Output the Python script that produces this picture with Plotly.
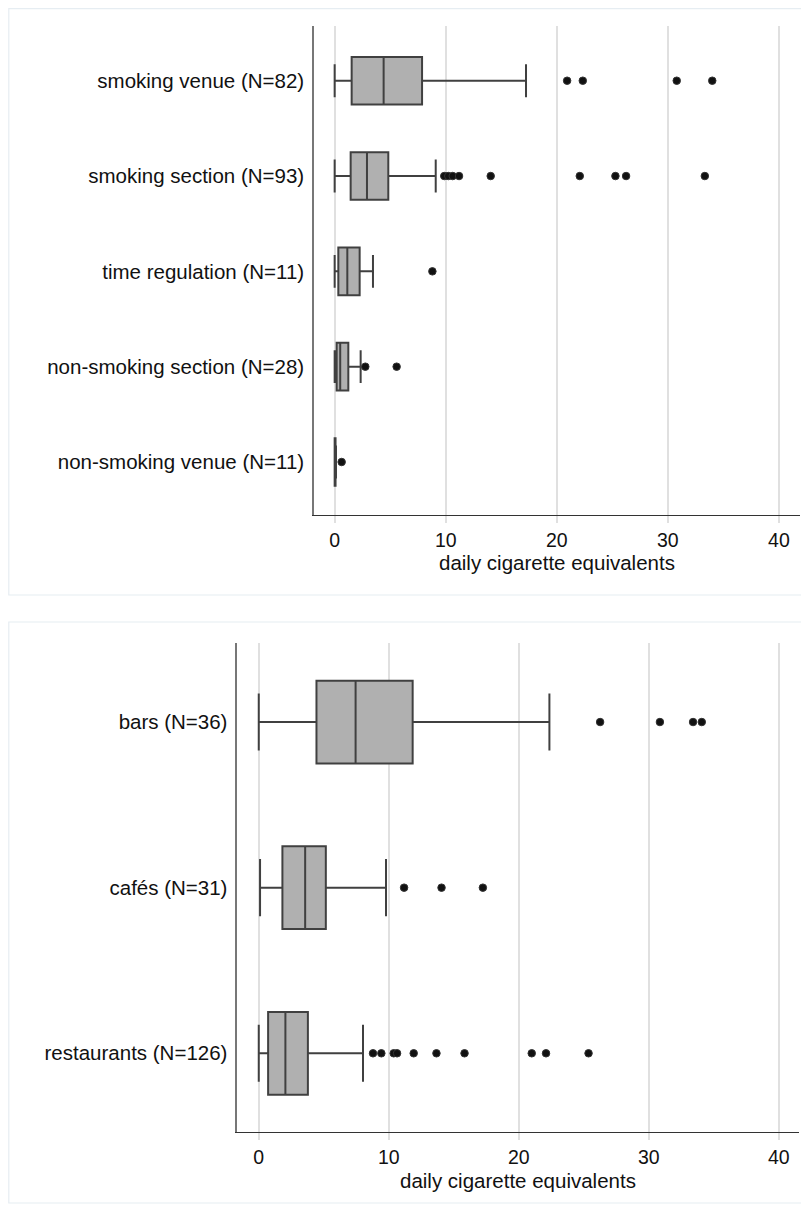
import plotly.graph_objects as go

# page has an 8px body margin; figure is sized so it ends at the window edge
OFF = 8
W, H = 809 - OFF, 1206 - OFF

# ---- Data ----
top_cats = ["smoking venue (N=82)", "smoking section (N=93)", "time regulation (N=11)",
            "non-smoking section (N=28)", "non-smoking venue (N=11)"]
top_low = [0.0, 0.0, 0.0, 0.0, 0.0]
top_q1 = [1.53, 1.44, 0.33, 0.18, 0.0]
top_med = [4.41, 2.91, 1.14, 0.5, 0.02]
top_q3 = [7.87, 4.83, 2.25, 1.23, 0.08]
top_high = [17.23, 9.1, 3.45, 2.34, 0.12]
top_out = [
    [20.93, 22.34, 30.8, 34.0],
    [9.87, 10.23, 10.63, 11.2, 14.05, 22.07, 25.28, 26.24, 33.33],
    [8.8],
    [2.76, 5.58],
    [0.63],
]

bot_cats = ["bars (N=36)", "cafés (N=31)", "restaurants (N=126)"]
bot_low = [0.0, 0.1, 0.0]
bot_q1 = [4.44, 1.82, 0.72]
bot_med = [7.45, 3.57, 2.05]
bot_q3 = [11.84, 5.16, 3.78]
bot_high = [22.36, 9.79, 8.02]
bot_out = [
    [26.26, 30.86, 33.41, 34.08],
    [11.18, 14.06, 17.24],
    [8.79, 9.43, 10.38, 10.64, 11.92, 13.67, 15.83, 21.0, 22.1, 25.37],
]

x_ticks = [0, 10, 20, 30, 40]
x_title = "daily cigarette equivalents"

FONT = "Arial, 'Liberation Sans', sans-serif"
FS = 20.5
FS_TICK = 19.5
BOX_FILL = "#b0b0b0"
BOX_LINE = "#404040"
GRID = "#e0e0e0"

fig = go.Figure()

def add_panel(cats, low, q1, med, q3, high, outs, xa, ya):
    for i, c in enumerate(cats):
        fig.add_trace(go.Box(
            y=[c], q1=[q1[i]], median=[med[i]], q3=[q3[i]],
            lowerfence=[low[i]], upperfence=[high[i]],
            orientation="h", fillcolor=BOX_FILL,
            line=dict(color=BOX_LINE, width=2),
            boxpoints=False, whiskerwidth=0.69, width=0.5,
            xaxis=xa, yaxis=ya, showlegend=False, hoverinfo="skip"))
        fig.add_trace(go.Scatter(
            x=outs[i], y=[c] * len(outs[i]), mode="markers",
            marker=dict(color="#111111", size=7.5, line=dict(color="#333333", width=1)),
            xaxis=xa, yaxis=ya, showlegend=False, hoverinfo="skip"))

add_panel(top_cats, top_low, top_q1, top_med, top_q3, top_high, top_out, "x", "y")
add_panel(bot_cats, bot_low, bot_q1, bot_med, bot_q3, bot_high, bot_out, "x2", "y2")

def px_x(v):
    return min(1.0, max(0.0, (v - OFF) / W))

def px_y(v):
    return min(1.0, max(0.0, 1 - (v - OFF) / H))

xcommon = dict(
    tickvals=x_ticks, ticktext=[str(t) for t in x_ticks],
    showgrid=True, gridcolor=GRID, gridwidth=1.5,
    ticks="outside", ticklen=7, tickcolor=GRID, tickwidth=1.5,
    showline=True, linecolor="#333333", linewidth=1.2,
    zeroline=False,
    tickfont=dict(family=FONT, size=FS_TICK, color="#111111"),
)
ycommon = dict(
    type="category", showgrid=False, zeroline=False,
    showline=True, linecolor="#777777", linewidth=1.5,
    ticks="", ticklabelstandoff=4,
    tickfont=dict(family=FONT, size=FS, color="#111111"),
)

top_x_dom = [px_x(314), px_x(800)]
bot_x_dom = [px_x(237.3), px_x(799)]

fig.update_layout(
    width=W, height=H,
    margin=dict(l=0, r=0, t=0, b=0),
    paper_bgcolor="white", plot_bgcolor="white",
    xaxis=dict(domain=top_x_dom, range=[-1.86, 41.9], anchor="y", **xcommon),
    yaxis=dict(domain=[px_y(515), px_y(26)], range=[4.556, -0.574], anchor="x",
               categoryorder="array", categoryarray=top_cats, **ycommon),
    xaxis2=dict(domain=bot_x_dom, range=[-1.65, 41.56], anchor="y2", **xcommon),
    yaxis2=dict(domain=[px_y(1132.3), px_y(642.7)], range=[2.477, -0.479], anchor="x2",
                categoryorder="array", categoryarray=bot_cats, **ycommon),
    shapes=[
        dict(type="rect", xref="paper", yref="paper",
             x0=0.001, x1=1.01, y0=px_y(595), y1=0.9995,
             line=dict(color="#e6edf2", width=1.2), layer="below"),
        dict(type="rect", xref="paper", yref="paper",
             x0=0.001, x1=1.01, y0=px_y(1203), y1=px_y(622),
             line=dict(color="#e6edf2", width=1.2), layer="below"),
    ],
    annotations=[
        dict(text=x_title, xref="paper", yref="paper",
             x=sum(top_x_dom) / 2, y=px_y(563), xanchor="center", yanchor="middle",
             showarrow=False, font=dict(family=FONT, size=FS, color="#111111")),
        dict(text=x_title, xref="paper", yref="paper",
             x=sum(bot_x_dom) / 2, y=px_y(1180), xanchor="center", yanchor="middle",
             showarrow=False, font=dict(family=FONT, size=FS, color="#111111")),
    ],
)

fig.write_html("out.html")
